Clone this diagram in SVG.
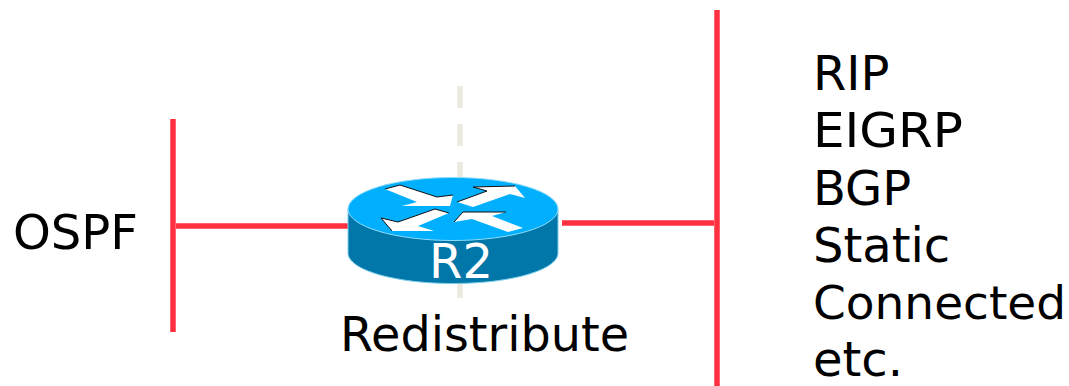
<svg xmlns="http://www.w3.org/2000/svg" width="1069" height="386" viewBox="0 0 1069 386">
<style>
text{font-family:"DejaVu Sans",Verdana,sans-serif;font-size:48px;fill:#000}
.red{stroke:#ff3040;stroke-width:5.5;fill:none}
.arrow{fill:#fff;stroke:none}
.edge{fill:none;stroke:#111;stroke-width:1}
</style>
<rect width="1069" height="386" fill="#fff"/>
<g id="connectors">
<line x1="460" y1="86" x2="460" y2="298" stroke="#ece9df" stroke-width="5.5" stroke-dasharray="22 16"/>
<line class="red" x1="173" y1="119" x2="173" y2="332"/>
<line class="red" x1="176" y1="226" x2="348" y2="226"/>
<line class="red" x1="717" y1="10" x2="717" y2="386"/>
<line class="red" x1="562" y1="223" x2="714" y2="223"/>
</g>
<g id="R2">
<path d="M348 209V253C348 270 395 283.500 453 283.500S558 270 558 253V209Z" fill="#0077a8" stroke="#7fd0ee" stroke-width="1"/>
<ellipse cx="453" cy="209" rx="105" ry="31.500" fill="#00b0ff" stroke="#8fdcfa" stroke-width="1"/>
<polygon class="arrow" points="385,189 400,185 437,197 453,195 450,206 402,206 417,202"/>
<polyline class="edge" points="385,189 400,185 437,197 453,195"/>
<polygon class="arrow" points="457,202 487,191 473,187 515,186 525,198 510,194 473,207"/>
<polyline class="edge" points="457,202 487,191 473,187 515,186"/>
<polygon class="arrow" points="381,218 398,222 435,209 449,213 418,226 434,231 392,231"/>
<polyline class="edge" points="392,231 381,218 398,222 435,209 449,213"/>
<polygon class="arrow" points="454,222 463,212 506,212 492,216 523,228 508,232 472,219"/>
<polyline class="edge" points="454,222 463,212 506,212"/>
<text x="461" y="278" text-anchor="middle" style="fill:#fff">R2</text>
</g>
<g id="labels">
<text x="13" y="249" textLength="125" lengthAdjust="spacingAndGlyphs">OSPF</text>
<text x="340" y="351" textLength="289" lengthAdjust="spacingAndGlyphs">Redistribute</text>
<text x="813" y="90">RIP</text>
<text x="813" y="147" textLength="150" lengthAdjust="spacingAndGlyphs">EIGRP</text>
<text x="813" y="205">BGP</text>
<text x="813" y="262">Static</text>
<text x="813" y="319" style="font-size:47px">Connected</text>
<text x="813" y="376">etc.</text>
</g>
</svg>
